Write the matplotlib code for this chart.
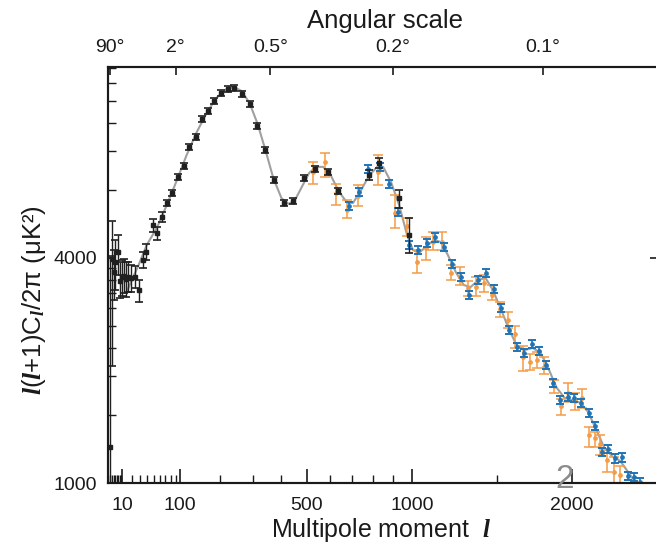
import numpy as np
import matplotlib

matplotlib.use("Agg")
import matplotlib.pyplot as plt
from matplotlib.ticker import FixedLocator, NullFormatter, NullLocator

plt.rcParams["font.family"] = ["Liberation Sans", "DejaVu Sans"]
plt.rcParams["mathtext.fontset"] = "custom"
plt.rcParams["mathtext.it"] = "Liberation Serif:italic:bold"
plt.rcParams["mathtext.rm"] = "Liberation Sans"

# black points (low l + first peaks)
black_l = [2, 3, 4, 5, 7, 8, 10, 12, 14, 16, 19, 23, 28, 33, 38, 48, 55, 64,
           73, 82, 95, 107, 120, 135, 150, 165, 183, 201, 221, 241, 265, 289,
           315, 343, 374, 409, 446, 489, 536, 589, 636, 781, 830, 932, 982]
black_d = [1150, 3960, 3555, 3870, 4215, 3300, 3410, 3440, 3355, 3410, 3385,
           3410, 3070, 3930, 4215, 5340, 4970, 5740,
           6540, 7130, 8330, 9225, 11020, 12220, 14500, 15680, 17250, 18670,
           19470, 19730, 18490, 16810, 13590, 10700, 8100, 6500, 6660, 8250,
           8985, 8720, 7285, 8470, 9460, 6810, 4890]
black_lo = [700, 1770, 2835, 3070, 3470, 2880, 2920, 2995, 2900, 3020, 3020,
            3120, 2790, 3690, 3930, 5015, 4675, 5490,
            6360, 6930, 8095, 8965, 10700, 11865, 14075, 15220, 16740, 18120,
            18890, 19140, 17940, 16310, 13190, 10390, 7870, 6320, 6475, 8020,
            8730, 8470, 7080, 8070, 9010, 6200, 4170]
black_hi = [4070, 5535, 4285, 4675, 4890, 3870, 3930, 3960, 3870, 3870, 3780,
            3750, 3330, 4215, 4510, 5635, 5250, 6000,
            6720, 7330, 8565, 9485, 11340, 12575, 14925, 16140, 17760, 19220,
            20050, 20320, 19040, 17310, 13990, 11010, 8330, 6680, 6845, 8480,
            9240, 8970, 7490, 8870, 9910, 7350, 5660]

# orange points
orange_l = [525, 575, 626, 676, 726, 822, 910, 971, 1026, 1074, 1118, 1169,
            1217, 1269, 1318, 1365, 1419, 1467, 1520, 1566, 1615, 1665, 1711,
            1761, 1810, 1876, 1928, 1976, 2024, 2075, 2123, 2168, 2207, 2257,
            2312, 2356]
orange_d = [8720, 9600, 7130, 6114, 6960, 8720, 5930, 5300, 3880, 4340, 4600,
            4600, 3520, 3420, 3110, 3150, 3235, 2950, 2640, 2434, 2200, 1880,
            1820, 1841, 1762, 1565, 1400, 1507, 1440, 1460, 1212, 1197, 1165,
            1088, 1040, 1030]
orange_lo = [7800, 8330, 6410, 5710, 6350, 7670, 5200, 4860, 3530, 3932, 4284,
             4284, 3335, 3190, 2930, 2930, 3020, 2835, 2480, 2300, 2000, 1710,
             1730, 1750, 1680, 1500, 1335, 1433, 1370, 1382, 1150, 1150, 1110,
             1040, 990, 990]
orange_hi = [9550, 10450, 7760, 6700, 7700, 10230, 7020, 5690, 4284, 4800,
             5015, 5015, 3780, 3700, 3300, 3420, 3460, 3195, 2800, 2580, 2330,
             2025, 1920, 1940, 1880, 1623, 1457, 1593, 1505, 1536, 1260, 1230,
             1210, 1134, 1100, 1065]

# blue points
blue_l = [686, 733, 776, 834, 878, 927, 985, 1034, 1081, 1127, 1178, 1227,
          1275, 1324, 1379, 1426, 1478, 1524, 1574, 1624, 1672, 1727, 1772,
          1821, 1869, 1920, 1974, 2018, 2066, 2121, 2171, 2220, 2268, 2318,
          2368, 2414, 2465, 2508]
blue_d = [6350, 7240, 8930, 9150, 7780, 6020, 4475, 4284, 4560, 4780, 4385,
          3800, 3420, 2950, 3328, 3535, 3085, 2660, 2262, 2005, 1930, 2050,
          1957, 1783, 1597, 1446, 1472, 1460, 1426, 1350, 1262, 1126, 1138,
          1095, 1100, 1026, 1021, 1005]
blue_err = [230, 270, 340, 345, 290, 220, 155, 150, 160, 170, 150, 130, 110,
            95, 110, 120, 100, 80, 65, 55, 52, 56, 53, 46, 38, 32, 33, 32, 31,
            28, 24, 19, 19, 18, 18, 15, 15, 14]

# grey model curve
model_l = [15, 28, 39, 55, 73, 93, 114, 138, 163, 189, 218, 239, 263, 289,
           316, 343, 371, 401, 428, 451, 478, 510, 539, 569, 603, 639, 676,
           703, 741, 779, 819, 849, 889, 931, 973, 1005, 1037, 1076, 1120,
           1159, 1200, 1246, 1293, 1334, 1383, 1426, 1471, 1520, 1571, 1623,
           1676, 1730, 1783, 1837, 1892, 1948, 2004, 2061, 2119, 2178, 2237,
           2296, 2356, 2416, 2477]
model_d = [3070, 3780, 4475, 5200, 6410, 8070, 10230, 12780, 15390, 17820,
           19470, 19870, 19090, 16970, 13820, 10730, 8230, 6820, 6465, 6640,
           7495, 8630, 9135, 9135, 8390, 7220, 6525, 6525, 7350, 8390, 9135,
           9135, 7930, 6410, 4890, 4285, 4180, 4400, 4675, 4595, 4105, 3555,
           3195, 3140, 3330, 3385, 3070, 2665, 2295, 2035, 1965, 1995, 1930,
           1745, 1555, 1465, 1445, 1425, 1355, 1240, 1145, 1105, 1085, 1040,
           1000]

top_l = [2, 90, 360, 900, 1800]
top_labels = ["90°", "2°", "0.5°", "0.2°", "0.1°"]

x_major = [10, 100, 500, 1000, 2000]
x_minor = [2, 3, 4, 5, 6, 7, 8, 9, 20, 30, 40, 50, 60, 70, 80, 90,
           200, 300, 400, 600, 700, 800, 900, 1500]
y_major = [1000, 4000]
y_steps = [2, 3, 4, 5, 6, 7, 8, 9, 20, 30, 40, 50, 60, 70]


def x_fwd(v):
    return np.power(np.maximum(np.asarray(v, dtype=float), 1e-9), 0.6)


def x_inv(t):
    return np.power(np.maximum(np.asarray(t, dtype=float), 0), 1 / 0.6)


def y_fwd(v):
    return np.log10(np.maximum(3 * np.asarray(v, dtype=float) / 1000 - 2, 1e-4))


def y_inv(t):
    return (np.power(10.0, np.asarray(t, dtype=float)) + 2) * 1000 / 3


def bars(d, lo, hi):
    d = np.asarray(d, dtype=float)
    return [d - np.asarray(lo, dtype=float), np.asarray(hi, dtype=float) - d]


fig = plt.figure(figsize=(6.56, 5.48), dpi=100)
ax = fig.add_axes([108 / 656, 65 / 548, 550 / 656, 416 / 548])
ax.set_xscale("function", functions=(x_fwd, x_inv))
ax.set_yscale("function", functions=(y_fwd, y_inv))

ax.plot(model_l, model_d, color="#a0a0a0", lw=1.5, zorder=1)

ax.errorbar(orange_l, orange_d, yerr=bars(orange_d, orange_lo, orange_hi),
            fmt="o", ms=2.4, color="#f39b45", ecolor="#f39b45", elinewidth=1.1,
            capsize=3.4, capthick=1.1, zorder=2)
ax.errorbar(blue_l, blue_d, yerr=blue_err, fmt="o", ms=2.4, color="#1f74b8",
            ecolor="#1f74b8", elinewidth=1.2, capsize=2.6, capthick=1.4,
            zorder=3)
ax.errorbar(black_l, black_d, yerr=bars(black_d, black_lo, black_hi),
            fmt="s", ms=2.4, color="#202020", ecolor="#202020", elinewidth=1.0,
            capsize=2.6, capthick=1.2, zorder=4)

ax.set_xlim(1.2, 2650)
ax.set_ylim(1000, 24200)

ax.xaxis.set_major_locator(FixedLocator(x_major))
ax.xaxis.set_minor_locator(FixedLocator(x_minor))
ax.set_xticklabels([str(v) for v in x_major])
ax.xaxis.set_minor_formatter(NullFormatter())

y_minor = [(k + 2) * 1000 / 3 for k in y_steps]
ax.yaxis.set_major_locator(FixedLocator(y_major))
ax.yaxis.set_minor_locator(FixedLocator(y_minor))
ax.set_yticklabels([str(v) for v in y_major])
ax.yaxis.set_minor_formatter(NullFormatter())

ax.tick_params(axis="both", which="both", direction="in", colors="#1a1a1a",
               labelsize=14, top=False)
ax.tick_params(axis="x", which="major", length=10, width=1.2, pad=10)
ax.tick_params(axis="x", which="minor", length=6, width=1.0)
ax.tick_params(axis="y", which="major", length=6, width=1.2, pad=8, right=True)
ax.tick_params(axis="y", which="minor", length=6, width=1.0, right=False)

ax2 = ax.twiny()
ax2.set_xscale("function", functions=(x_fwd, x_inv))
ax2.set_xlim(ax.get_xlim())
ax2.xaxis.set_major_locator(FixedLocator(top_l))
ax2.set_xticklabels(top_labels)
ax2.xaxis.set_minor_locator(NullLocator())
ax2.tick_params(axis="x", direction="in", length=6, width=1.2, labelsize=14,
                pad=8, colors="#1a1a1a")

for a in (ax, ax2):
    for s in a.spines.values():
        s.set_linewidth(1.5)
        s.set_color("#1a1a1a")

fig.text(385 / 656, 1 - 21 / 548, "Angular scale", fontsize=18.5,
         ha="center", va="center", color="#1a1a1a")
fig.text(381 / 656, 1 - 530 / 548, "Multipole moment  $l$", fontsize=18,
         ha="center", va="center", color="#1a1a1a")
fig.text(34 / 656, 1 - 300 / 548, "$l$($l$+1)C$_l$/2π (μK²)", fontsize=18.5,
         rotation=90, ha="center", va="center", color="#1a1a1a")
fig.text(565 / 656, 1 - 480 / 548, "2", fontsize=24, ha="center", va="center",
         color="#8c8c8c")

fig.savefig("out.png", dpi=100)
